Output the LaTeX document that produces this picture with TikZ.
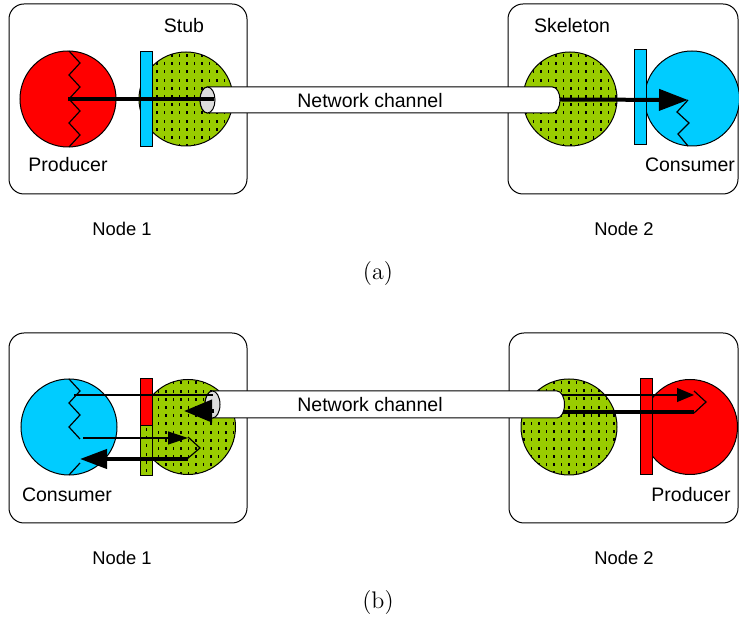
\documentclass[tikz,border=0pt]{standalone}
\usepackage{fontspec}
\setsansfont{Liberation Sans}
\usetikzlibrary{arrows.meta}

\definecolor{prodred}{RGB}{255,0,0}
\definecolor{conscyan}{RGB}{0,204,255}
\definecolor{stubgreen}{RGB}{153,204,0}
\definecolor{pipegray}{RGB}{221,221,221}

\tikzset{
  hostbox/.style={draw,line width=0.5pt,rounded corners=7.5pt},
  part/.style={draw,line width=0.5pt},
  thinwire/.style={line width=0.6pt},
  thickwire/.style={line width=2pt},
  lbl/.style={font=\sffamily\fontsize{9.75}{11}\selectfont},
  nodelbl/.style={font=\sffamily\fontsize{9.2}{11}\selectfont},
  caplbl/.style={font=\fontsize{12}{14}\selectfont}
}

% short black dashes on a grid
\newcommand{\greendots}[4]{%
  \foreach \i in {0,...,#3} \foreach \j in {0,...,#4}
    \fill ({#1+7.5*\i-0.6},{#2+8.2*\j}) rectangle ++(1.2,3);}
\newcommand{\greendisc}[3]{%
  \begin{scope}
    \clip (#1,#2) circle (#3);
    \fill[stubgreen] (#1,#2) circle (#3);
    \greendots{#1-#3+3}{#2-#3+2}{13}{12}
  \end{scope}
  \draw[part] (#1,#2) circle (#3);}

\begin{document}
\begin{tikzpicture}[x=0.5pt,y=-0.5pt]
\useasboundingbox (0,0) rectangle (739,619);
\clip (0,0) rectangle (739,619);

% (a)
\draw[hostbox] (9,4) rectangle (247,194);
\draw[hostbox] (508,4) rectangle (738,194);
\draw[part,fill=prodred] (68,99) circle (48);
\draw[thinwire] (69,51) \foreach \k in {1,...,8}{ -- ({69+11*mod(\k,2)},{51+12*\k})};
\greendisc{186}{99}{47}
\draw[part,fill=conscyan] (140,52) rectangle (152,147);
\greendisc{570}{99}{47}
\draw[part,fill=white] (207.5,87) -- (552.5,87) arc (-90:90:7.5 and 13) -- (207.5,113) arc (90:270:7.5 and 13) -- cycle;
\draw[part,fill=pipegray] (207.5,100) ellipse (7.5 and 13);
\node[lbl] (chanA) at (370,100.5) {Network channel};
\draw[part,fill=conscyan] (692,98.5) circle (47.5);
\draw[part,fill=conscyan] (634,50) rectangle (646,145);

\coordinate (prodA) at (68,99);
\coordinate (stubA) at (214,99);
\coordinate (skelA) at (560,99.5);
\coordinate (consA) at (688,100);
\draw[thickwire] (prodA) -- (stubA);
\draw[thickwire,-{Triangle[length=14.5pt,width=10.5pt]}] (skelA) -- (consA);
\draw[thinwire] (consA) -- (677,112) -- (689,123) -- (678,134) -- (688,146);

\node[lbl] (stubLbl) at (184,26) {Stub};
\node[lbl] (prodLbl) at (68,165) {Producer};
\node[lbl] (skelLbl) at (572,26) {Skeleton};
\node[lbl] (consLbl) at (690,165) {Consumer};
\node[nodelbl] (nodeA1) at (122,228.5) {Node 1};
\node[nodelbl] (nodeA2) at (624,228.5) {Node 2};
\node[caplbl] (capA) at (378,274) {(a)};

% (b)
\draw[hostbox] (9,333) rectangle (247,523);
\draw[hostbox] (509,333) rectangle (738,523);
\draw[part,fill=conscyan] (69,427) circle (48);
\draw[thinwire] (69,379) -- (80,391) -- (69,403) -- (80,415) -- (69,427) -- (80,439);
\draw[thinwire] (69,475) -- (80,463);
\greendisc{188}{427}{47.5}
\draw[part,fill=prodred] (140,379) rectangle (152,426);
\begin{scope}
  \clip (140,426) rectangle (152,476);
  \fill[stubgreen] (140,426) rectangle (152,476);
  \greendots{146.5}{428}{0}{6}
\end{scope}
\draw[part] (140,426) rectangle (152,476);
\greendisc{569}{427}{48}
\draw[part,fill=white] (212.5,391) -- (557,391) arc (-90:90:7.5 and 13.5) -- (212.5,418) arc (90:270:7.5 and 13.5) -- cycle;
\draw[part,fill=pipegray] (212.5,404.5) ellipse (7.5 and 13.5);
\node[lbl] (chanB) at (370,405) {Network channel};
\draw[part,fill=prodred] (690,427) circle (47.5);
\draw[part,fill=prodred] (640,379) rectangle (652,475);

\coordinate (consB1) at (74,395);
\coordinate (stubB1) at (213,395);
\coordinate (skelB1) at (562,395);
\coordinate (prodB1) at (694,395);
\draw[thinwire] (consB1) -- (stubB1);
\draw[thinwire,-{Triangle[length=8.5pt,width=7pt]}] (skelB1) -- (prodB1);
\draw[thinwire] (694,391) -- (706,402) -- (694,413);
\coordinate (skelB2) at (563,412);
\coordinate (prodB2) at (694,412);
\draw[thickwire] (skelB2) -- (prodB2);

\coordinate (stubB2) at (214,411);
\coordinate (stubB3) at (184,411);
\draw[thickwire,-{Triangle[length=14pt,width=11pt]}] (stubB2) -- (stubB3);
\coordinate (consB2) at (83,438);
\coordinate (stubB4) at (188,438);
\draw[thinwire,-{Triangle[length=10pt,width=6.5pt]}] (consB2) -- (stubB4);
\draw[thinwire] (188,437) -- (200,448) -- (187,459);
\coordinate (stubB5) at (188,459);
\coordinate (consB3) at (80,459);
\draw[thickwire,-{Triangle[length=13.5pt,width=9.5pt]}] (stubB5) -- (consB3);

\node[lbl] (consLblB) at (67,495) {Consumer};
\node[lbl] (prodLblB) at (691,495) {Producer};
\node[nodelbl] (nodeB1) at (122,557.5) {Node 1};
\node[nodelbl] (nodeB2) at (624,557.5) {Node 2};
\node[caplbl] (capB) at (378,603) {(b)};
\end{tikzpicture}
\end{document}
